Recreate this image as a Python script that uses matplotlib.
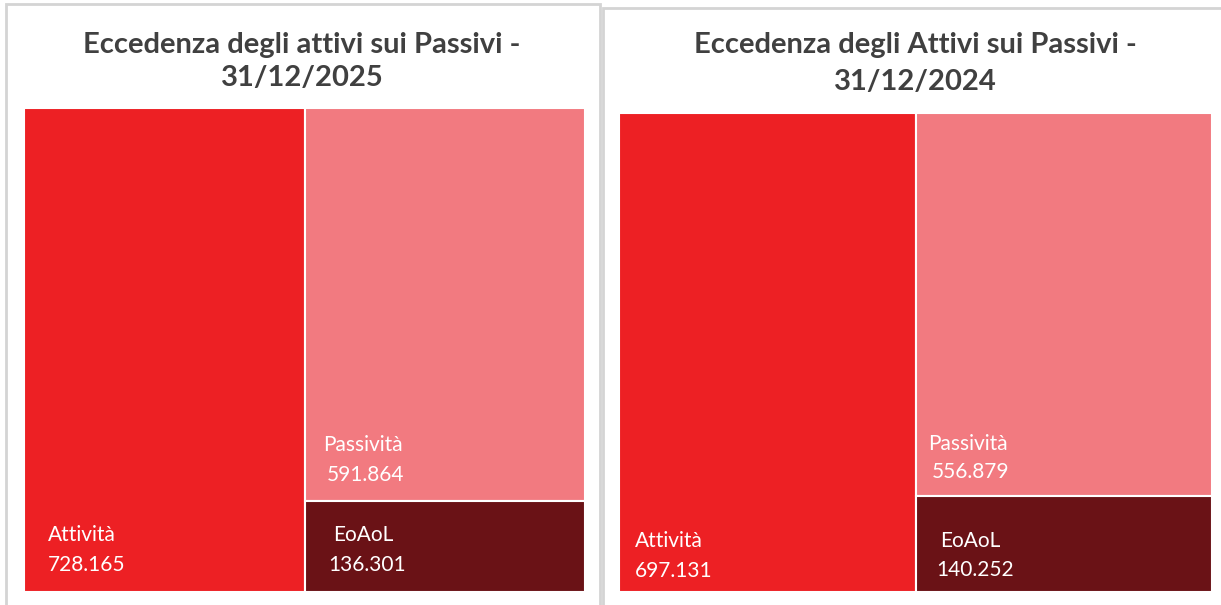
import matplotlib
matplotlib.use("Agg")
import matplotlib.pyplot as plt
from matplotlib.patches import Rectangle

# Data
titles = ["Eccedenza degli attivi sui Passivi -\n31/12/2025",
          "Eccedenza degli Attivi sui Passivi -\n31/12/2024"]
categories = ["Attività", "Passività", "EoAoL"]
values_2025 = [728.165, 591.864, 136.301]
values_2024 = [697.131, 556.879, 140.252]
labels_2025 = ["728.165", "591.864", "136.301"]
labels_2024 = ["697.131", "556.879", "140.252"]

colors = ["#ED2024", "#F27A80", "#6A1216"]
W, H = 1221, 605
fig = plt.figure(figsize=(W / 100, H / 100), dpi=100)
fig.patch.set_facecolor("white")
FONT = ["Lato", "DejaVu Sans"]


def fx(px):
    return px / W


def fy(py):
    return 1 - py / H


# panel borders
for (x0, y0, x1, y1) in [(6, 4, 600, 615), (603, 8, 1230, 615)]:
    fig.patches.append(Rectangle((fx(x0), fy(y1)), fx(x1 - x0), (y1 - y0) / H,
                                 transform=fig.transFigure, fill=False,
                                 edgecolor="#D4D4D4", linewidth=2, zorder=0))

panels = [
    dict(vals=values_2025, labs=labels_2025, title=titles[0], box=(24, 108, 585, 592),
         tcx=302, ty=[45, 78],
         txt=[(48, 535, 48, 565), (323, 445, 327, 475), (333, 535, 328, 565)]),
    dict(vals=values_2024, labs=labels_2024, title=titles[1], box=(619, 113, 1212, 592),
         tcx=915, ty=[45, 82],
         txt=[(635, 541, 635, 571), (928, 444, 932, 472), (940, 541, 936, 570)]),
]

for p in panels:
    x0, y0, x1, y1 = p["box"]
    ax = fig.add_axes([fx(x0), fy(y1), fx(x1 - x0), (y1 - y0) / H])
    a, pa, e = p["vals"]
    total = a + pa + e
    ax.set_xlim(0, total)
    ax.set_ylim(0, 1)
    ax.axis("off")
    # treemap: left column Attività, right column split Passività (top) / EoAoL (bottom)
    ax.add_patch(Rectangle((0, 0), a, 1, facecolor=colors[0], edgecolor="white", linewidth=1.5))
    col = pa + e
    ax.add_patch(Rectangle((a, e / col), col, pa / col, facecolor=colors[1], edgecolor="white", linewidth=1.5))
    ax.add_patch(Rectangle((a, 0), col, e / col, facecolor=colors[2], edgecolor="white", linewidth=1.5))
    for i, (lx, ly, vx, vy) in enumerate(p["txt"]):
        fig.text(fx(lx), fy(ly), categories[i], color="white", fontsize=15,
                 family=FONT, ha="left", va="center")
        fig.text(fx(vx), fy(vy), p["labs"][i], color="white", fontsize=15,
                 family=FONT, ha="left", va="center")
    l1, l2 = p["title"].split("\n")
    fig.text(fx(p["tcx"]), fy(p["ty"][0]), l1, color="#404040", fontsize=21,
             fontweight="bold", family=FONT, ha="center", va="center")
    fig.text(fx(p["tcx"]), fy(p["ty"][1]), l2, color="#404040", fontsize=21,
             fontweight="bold", family=FONT, ha="center", va="center")

fig.savefig("out.png", dpi=100)
